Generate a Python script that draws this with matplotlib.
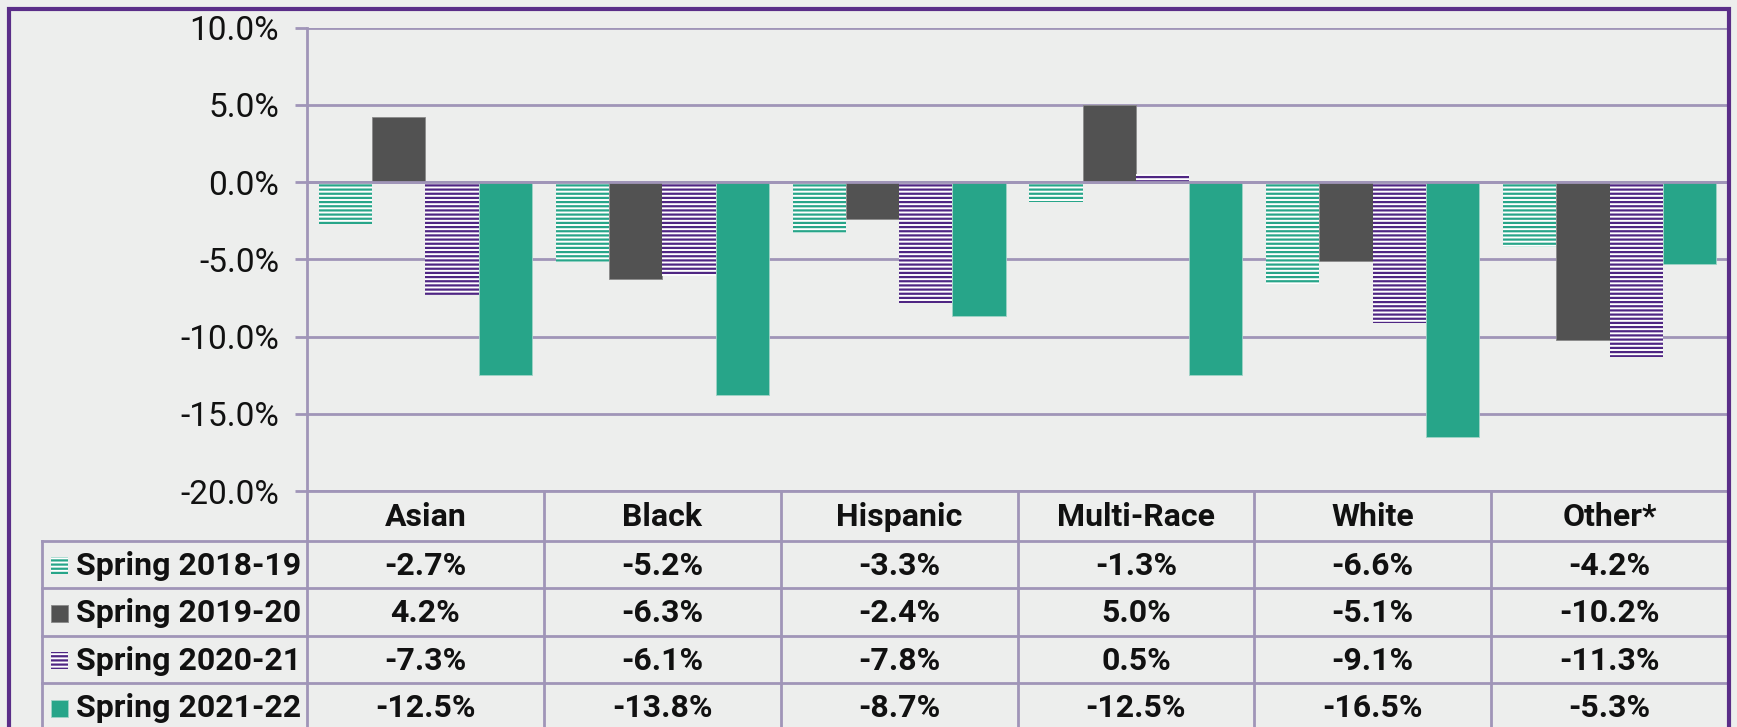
import matplotlib
matplotlib.use("Agg")
import matplotlib.pyplot as plt
from matplotlib.patches import Rectangle
import numpy as np

plt.rcParams['font.family'] = ['Roboto', 'DejaVu Sans']
plt.rcParams['hatch.linewidth'] = 1.6

categories = ["Asian", "Black", "Hispanic", "Multi-Race", "White", "Other*"]
series_names = ["Spring 2018-19", "Spring 2019-20", "Spring 2020-21", "Spring 2021-22"]
spring_2018_19 = [-2.7, -5.2, -3.3, -1.3, -6.6, -4.2]
spring_2019_20 = [4.2, -6.3, -2.4, 5.0, -5.1, -10.2]
spring_2020_21 = [-7.3, -6.1, -7.8, 0.5, -9.1, -11.3]
spring_2021_22 = [-12.5, -13.8, -8.7, -12.5, -16.5, -5.3]
series_values = [spring_2018_19, spring_2019_20, spring_2020_21, spring_2021_22]
y_ticks = [-20, -15, -10, -5, 0, 5, 10]

TEAL = "#27A589"
GRAY = "#525252"
PURPLE = "#4F2683"
GRID = "#A095B8"
FRAME = "#5A2D88"
BG = "#EDEEED"

styles = [
    dict(facecolor="white", edgecolor=TEAL, hatch="----", linewidth=0),
    dict(facecolor=GRAY, edgecolor="#8A8A8A", linewidth=0.6),
    dict(facecolor="white", edgecolor=PURPLE, hatch="----", linewidth=0),
    dict(facecolor=TEAL, edgecolor="#9FD3C6", linewidth=0.6),
]

W, H = 1737, 727
fig = plt.figure(figsize=(W / 100, H / 100), dpi=100, facecolor=BG)

# plot area in pixels
L, R, T, B = 307, 1728, 27.7, 491.0
ax = fig.add_axes([L / W, 1 - B / H, (R - L) / W, (B - T) / H])
ax.set_facecolor("none")
ax.set_xlim(-0.5, len(categories) - 0.5)
ax.set_ylim(-20, 10)

x = np.arange(len(categories))
bw = 0.225
for j, (vals, st) in enumerate(zip(series_values, styles)):
    ax.bar(x + (j - 1.5) * bw, vals, width=bw, zorder=3, **st)

ax.set_yticks(y_ticks)
ax.set_yticklabels([f"{v:.1f}%" for v in y_ticks], fontsize=24, color="#111111")
ax.yaxis.grid(True, color=GRID, linewidth=2.0, zorder=0)
ax.set_axisbelow(True)
ax.tick_params(axis="y", length=9, width=2.0, color=GRID, pad=11)
ax.tick_params(axis="x", length=0, labelbottom=False)
for s in ["top", "right", "bottom"]:
    ax.spines[s].set_visible(False)
ax.spines["left"].set_color(GRID)
ax.spines["left"].set_linewidth(2.0)
# zero line on top of bars
ax.axhline(0, color=GRID, linewidth=2.0, zorder=4)

# overlay for table and frame (pixel coordinates)
ov = fig.add_axes([0, 0, 1, 1])
ov.set_xlim(0, W)
ov.set_ylim(H, 0)
ov.axis("off")
ov.set_zorder(5)

cw = (R - L) / len(categories)
col_x = [L + i * cw for i in range(len(categories) + 1)]
row_y = [491.0, 541.0, 588.3, 635.7, 683.3, 731.0]
tab_left = 42

# horizontal lines
ov.plot([L, R], [row_y[0], row_y[0]], color=GRID, lw=2.0)
for yy in row_y[1:5]:
    ov.plot([tab_left, R], [yy, yy], color=GRID, lw=2.0)
# vertical lines
for xx in col_x:
    ov.plot([xx, xx], [row_y[0], H], color=GRID, lw=2.0)
ov.plot([tab_left, tab_left], [row_y[1], H], color=GRID, lw=2.0)

FS = 23
# header
for i, c in enumerate(categories):
    ov.text((col_x[i] + col_x[i + 1]) / 2, (row_y[0] + row_y[1]) / 2 + 1, c,
            ha="center", va="center", fontsize=FS, fontweight="bold", color="#111111")

# rows
for j, (name, vals, st) in enumerate(zip(series_names, series_values, styles)):
    yc = (row_y[j + 1] + row_y[j + 2]) / 2 + 1
    sw = 17
    ov.add_patch(Rectangle((51, yc - sw / 2), sw, sw, zorder=6, **st))
    ov.text(76, yc, name, ha="left", va="center", fontsize=FS,
            fontweight="bold", color="#111111")
    for i, v in enumerate(vals):
        ov.text((col_x[i] + col_x[i + 1]) / 2, yc, f"{v:.1f}%", ha="center",
                va="center", fontsize=FS, fontweight="bold", color="#111111")

# outer frame
ov.plot([9, 9, 1729, 1729], [H + 5, 9, 9, H + 5], color=FRAME, lw=3.0,
        solid_joinstyle="miter")

fig.savefig("out.png", dpi=100, facecolor=BG)
